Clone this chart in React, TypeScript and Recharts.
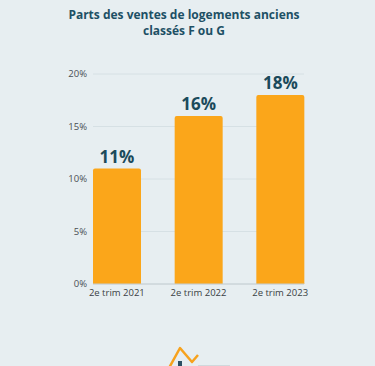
import { BarChart, Bar, XAxis, YAxis, CartesianGrid, LabelList } from 'recharts';

const categories = ['2e trim 2021', '2e trim 2022', '2e trim 2023'];
const shares = [11, 16, 18];
const yTicks = [0, 5, 10, 15, 20];

const data = categories.map((quarter, i) => ({ quarter, share: shares[i] }));

const pct = (v: number) => `${v}%`;

export default function App() {
  return (
    <div
      style={{
        position: 'fixed',
        top: 0,
        left: 0,
        width: 375,
        height: 366,
        background: '#e7eef1',
        overflow: 'hidden',
        fontFamily: 'Lato, sans-serif',
      }}>
      <div
        style={{
          position: 'absolute',
          top: 7,
          left: 0,
          width: 368,
          textAlign: 'center',
          color: '#1d5065',
          fontFamily: "'Open Sans', sans-serif",
          fontWeight: 700,
          fontSize: 12,
          lineHeight: '16px',
        }}>
        Parts des ventes de logements anciens
        <br />
        classés F ou G
      </div>
      <div style={{ position: 'absolute', top: 0, left: 0 }}>
        <BarChart
          width={375}
          height={310}
          data={data}
          margin={{ top: 74, right: 71, left: 53, bottom: 6 }}>
          <CartesianGrid vertical={false} stroke='#d6e0e4' />
          <XAxis
            dataKey='quarter'
            padding={{ left: -17, right: -17 }}
            tickLine={false}
            tickSize={0}
            tickMargin={5}
            height={20}
            stroke='#c5ced2'
            tick={{ fontSize: 9.5, fill: '#3a3f44', fontFamily: "'Open Sans', sans-serif" }}
            interval={0}
          />
          <YAxis
            domain={[0, 20]}
            ticks={yTicks}
            tickFormatter={pct}
            axisLine={false}
            tickLine={false}
            tickSize={0}
            tickMargin={6}
            width={40}
            tick={{ fontSize: 9.5, fill: '#4a4f54', fontFamily: "'Open Sans', sans-serif" }}
          />
          <Bar dataKey='share' fill='#fba61a' barSize={48} radius={[2, 2, 0, 0]} isAnimationActive={false}>
            <LabelList
              dataKey='share'
              position='top'
              offset={6}
              formatter={(v: any) => `${v}%`}
              style={{ fontSize: 17, fontWeight: 700, fill: '#1b4a5b', fontFamily: "'Open Sans', sans-serif" }}
            />
          </Bar>
        </BarChart>
      </div>
      <svg width={375} height={366} style={{ position: 'absolute', top: 0, left: 0 }}>
        <polyline
          points='169,368 180,348 192,362 198,355'
          fill='none'
          stroke='#f7a21d'
          strokeWidth={2.5}
          strokeLinejoin='round'
        />
        <rect x={178} y={361} width={4} height={5} fill='#2b4f63' />
        <rect x={198} y={365} width={32} height={2} fill='#d0d8dc' />
      </svg>
    </div>
  );
}
